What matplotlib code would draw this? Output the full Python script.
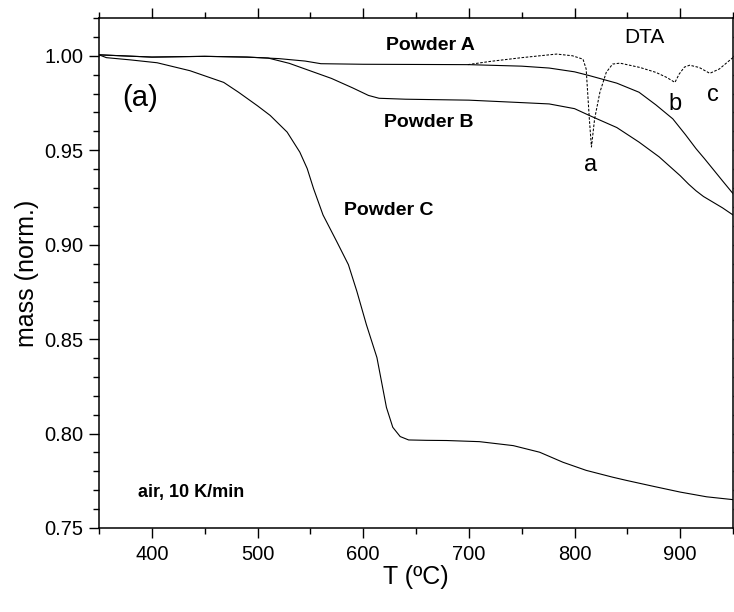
import matplotlib
matplotlib.use('Agg')
import matplotlib.pyplot as plt
from matplotlib.ticker import MultipleLocator

plt.rcParams['font.family'] = ['Liberation Sans', 'DejaVu Sans']

# Powder A (TG)
T_A = [350, 400, 450, 490, 520, 545, 560, 600, 650, 700, 750, 776, 800, 814,
       840, 861, 877, 893, 905, 915, 923, 931, 940, 950]
m_A = [1.0005, 0.9993, 0.9997, 0.9993, 0.9985, 0.9972, 0.9958, 0.9955, 0.9954,
       0.9953, 0.9945, 0.9935, 0.9915, 0.9895, 0.9855, 0.9807, 0.9740, 0.9666,
       0.9582, 0.9508, 0.9455, 0.9400, 0.9338, 0.9270]

# Powder B (TG)
T_B = [350, 400, 450, 490, 510, 530, 550, 570, 590, 605, 615, 640, 700, 750,
       776, 800, 814, 840, 861, 880, 893, 900, 908, 915, 922, 931, 940, 950]
m_B = [1.0005, 0.9993, 0.9997, 0.9993, 0.9988, 0.9960, 0.9920, 0.9880, 0.9830,
       0.9790, 0.9775, 0.9770, 0.9765, 0.9752, 0.9745, 0.9720, 0.9684, 0.9620,
       0.9543, 0.9465, 0.9400, 0.9365, 0.9320, 0.9285, 0.9255, 0.9225, 0.9195,
       0.9157]

# Powder C (TG)
T_C = [350, 357, 380, 405, 436, 468, 482, 500, 512, 528, 540, 547, 553, 562,
       575, 586, 594, 603, 613, 616, 622, 628, 635, 643, 660, 679, 710, 742,
       767, 789, 811, 836, 849, 875, 900, 925, 950]
m_C = [1.0005, 0.9990, 0.9978, 0.9963, 0.9921, 0.9859, 0.9807, 0.9735, 0.9684,
       0.9596, 0.9490, 0.9403, 0.9297, 0.9157, 0.9016, 0.8894, 0.8753, 0.8577,
       0.8402, 0.8314, 0.8138, 0.8033, 0.7984, 0.7966, 0.7964, 0.7963, 0.7957,
       0.7936, 0.7901, 0.7848, 0.7805, 0.7769, 0.7752, 0.7720, 0.7690, 0.7665,
       0.7650]

# DTA trace (scaled onto mass axis)
T_dta = [699, 720, 750, 776, 783, 798, 808, 811, 814, 816, 819, 824, 830, 836,
         843, 862, 877, 887, 895, 899, 904, 909, 918, 928, 937, 950]
m_dta = [0.9953, 0.9970, 0.9990, 1.0005, 1.0009, 1.0000, 0.9982, 0.9930, 0.9666,
         0.9517, 0.9666, 0.9807, 0.9912, 0.9956, 0.9961, 0.9938, 0.9912, 0.9886,
         0.9859, 0.9903, 0.9940, 0.9950, 0.9938, 0.9907, 0.9930, 0.9991]

fig = plt.figure(figsize=(7.34, 6.12), dpi=100)
ax = fig.add_axes([0.1349, 0.1373, 0.8638, 0.8333])

ax.plot(T_A, m_A, color='black', lw=0.8)
ax.plot(T_B, m_B, color='black', lw=0.8)
ax.plot(T_C, m_C, color='black', lw=0.8)
ax.plot(T_dta, m_dta, color='black', lw=0.75, ls=(0, (2.5, 1.5)))

ax.set_xlim(350, 950)
ax.set_ylim(0.75, 1.02)
ax.xaxis.set_major_locator(MultipleLocator(100))
ax.xaxis.set_minor_locator(MultipleLocator(50))
ax.yaxis.set_major_locator(MultipleLocator(0.05))
ax.yaxis.set_minor_locator(MultipleLocator(0.01))
ax.yaxis.set_major_formatter(matplotlib.ticker.FormatStrFormatter('%.2f'))

for s in ax.spines.values():
    s.set_linewidth(1.1)
ax.tick_params(which='both', direction='out', top=True, right=True,
               labeltop=False, labelright=False, width=1.0, labelsize=14.5)
ax.tick_params(which='major', length=7)
ax.tick_params(which='minor', length=4)
ax.tick_params(axis='x', pad=5)
ax.tick_params(axis='y', pad=4)

ax.set_xlabel('T (ºC)', fontsize=18, labelpad=1)
ax.set_ylabel('mass (norm.)', fontsize=18, labelpad=4)

ax.text(664, 1.0054, 'Powder A', fontsize=14, fontweight='bold', ha='center', va='center')
ax.text(662, 0.9646, 'Powder B', fontsize=14, fontweight='bold', ha='center', va='center')
ax.text(624, 0.918, 'Powder C', fontsize=14, fontweight='bold', ha='center', va='center')
ax.text(389, 0.9775, '(a)', fontsize=21, ha='center', va='center')
ax.text(866.5, 1.0096, 'DTA', fontsize=15, ha='center', va='center')
ax.text(815, 0.942, 'a', fontsize=17, ha='center', va='center')
ax.text(894.6, 0.9745, 'b', fontsize=17, ha='center', va='center')
ax.text(930.6, 0.979, 'c', fontsize=17, ha='center', va='center')
ax.text(387, 0.769, 'air, 10 K/min', fontsize=13, fontweight='bold', ha='left', va='center')

fig.savefig('out.png', dpi=100)
